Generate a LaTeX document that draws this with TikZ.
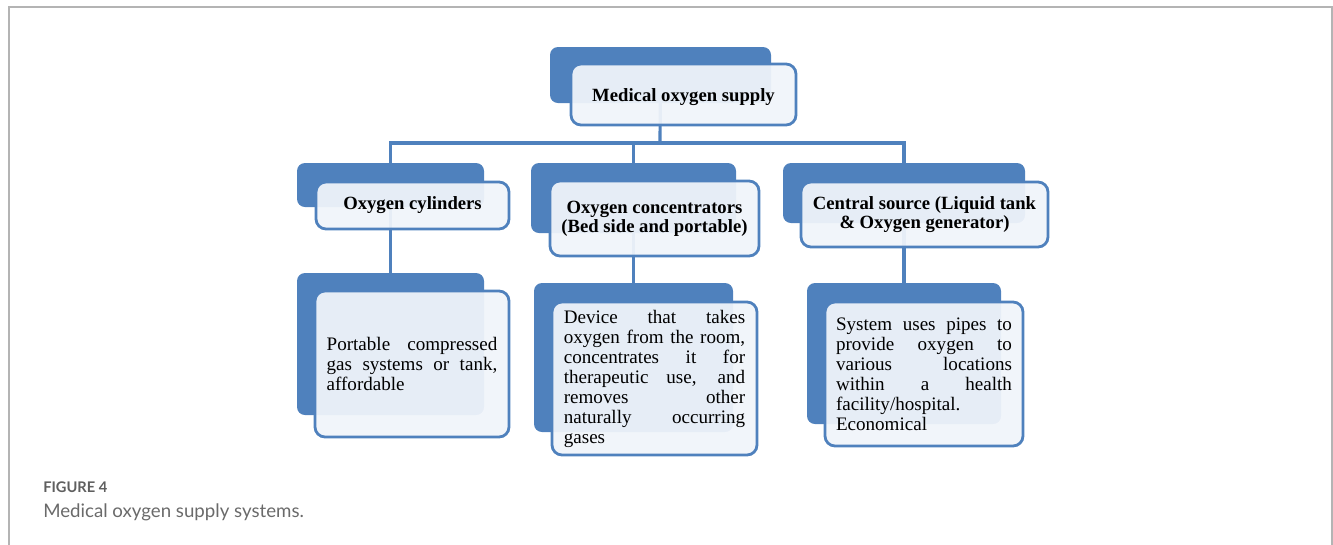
\documentclass[tikz,border=0pt]{standalone}
\usepackage{fontspec}
\setmainfont{Liberation Serif}
\newfontfamily\capfont{Lato}
\usetikzlibrary{fit}
\definecolor{obl}{HTML}{4F81BD}
\definecolor{ofront}{HTML}{F0F4FA}
\definecolor{framegray}{HTML}{B4B4B4}
\definecolor{capgray}{HTML}{5F5F5F}
\definecolor{capgray2}{HTML}{6A6A6A}
\tikzset{
  backbox/.style={draw=none, fill=obl, rounded corners=6pt, inner sep=0pt, outer sep=0pt},
  frontbox/.style={draw=obl, line width=2.1pt, fill=ofront, fill opacity=0.94,
    rounded corners=7.5pt, inner sep=0pt, outer sep=0pt},
  headtext/.style={font=\bfseries\fontsize{14}{14.5}\selectfont, align=center, inner sep=0pt},
  bodytext/.style={font=\fontsize{14.3}{15}\selectfont, align=justify, inner sep=0pt},
  conn/.style={draw=obl, line width=2.4pt},
  framestyle/.style={draw=framegray, line width=1.5pt},
}
\begin{document}
\begin{tikzpicture}[x=0.75pt,y=-0.75pt]
\useasboundingbox (0,0) rectangle (1333,544);
\draw[framestyle] (9,560) -- (9,7) -- (1332,7) -- (1332,560);

% back boxes
\node[backbox, fit={(550,47) (771,103)}] (b0) {};
\node[backbox, fit={(297,163) (484,207)}] (b1) {};
\node[backbox, fit={(531,163) (736,233)}] (b2) {};
\node[backbox, fit={(783,163) (1025,223)}] (b3) {};
\node[backbox, fit={(297,273) (484,415)}] (b4) {};
\node[backbox, fit={(534,283) (733,432)}] (b5) {};
\node[backbox, fit={(807,283) (1001,424)}] (b6) {};

% connectors (behind front boxes)
\coordinate (j) at (660,143);
\draw[conn] (b0.center) -- (j);
\draw[conn] (b1.north) |- (j) -| (b3.north);
\draw[conn] (b2.north) -- (b2.north |- j);
\draw[conn] (b1.south) -- (b4.north);
\draw[conn] (b2.south) -- (b5.north);
\draw[conn] (b3.south) -- (b6.north);

% front boxes
\node[frontbox, fit={(571,64) (796,125)}] (f0) {};
\node[frontbox, fit={(316,182) (509,229)}] (f1) {};
\node[frontbox, fit={(550,181) (759,256)}] (f2) {};
\node[frontbox, fit={(801,182) (1048,247)}] (f3) {};
\node[frontbox, fit={(315,291) (509,437)}] (f4) {};
\node[frontbox, fit={(552,302) (757,455)}] (f5) {};
\node[frontbox, fit={(825,302) (1023,446)}] (f6) {};

% texts
\node[headtext] (t0) at ([yshift=-2pt]f0.center) {Medical oxygen supply};
\node[headtext] (t1) at (f1.center) {Oxygen cylinders};
\node[headtext] (t2) at (f2.center) {Oxygen concentrators\\(Bed side and portable)};
\node[headtext] (t3) at (f3.center) {Central source (Liquid tank\\\& Oxygen generator)};
\node[bodytext, text width=128pt] (t4) at (f4.center)
  {Portable compressed\linebreak gas systems or tank,\linebreak affordable};
\node[bodytext, text width=136pt] (t5) at (f5.center)
  {Device that takes\linebreak oxygen from the room,\linebreak concentrates it for\linebreak therapeutic use, and\linebreak removes other\linebreak naturally occurring\linebreak gases};
\node[bodytext, text width=132pt] (t6) at (f6.center)
  {System uses pipes to\linebreak provide oxygen to\linebreak various locations\linebreak within a health\linebreak facility/hospital.\newline Economical};

% caption
\node[anchor=base west, inner sep=0pt, text=capgray, font=\capfont\bfseries\fontsize{11}{13}\selectfont] (cap1) at (43,492) {FIGURE 4};
\node[anchor=base west, inner sep=0pt, text=capgray2, font=\capfont\fontsize{14}{16}\selectfont] (cap2) at (43,517) {Medical oxygen supply systems.};
\end{tikzpicture}
\end{document}
